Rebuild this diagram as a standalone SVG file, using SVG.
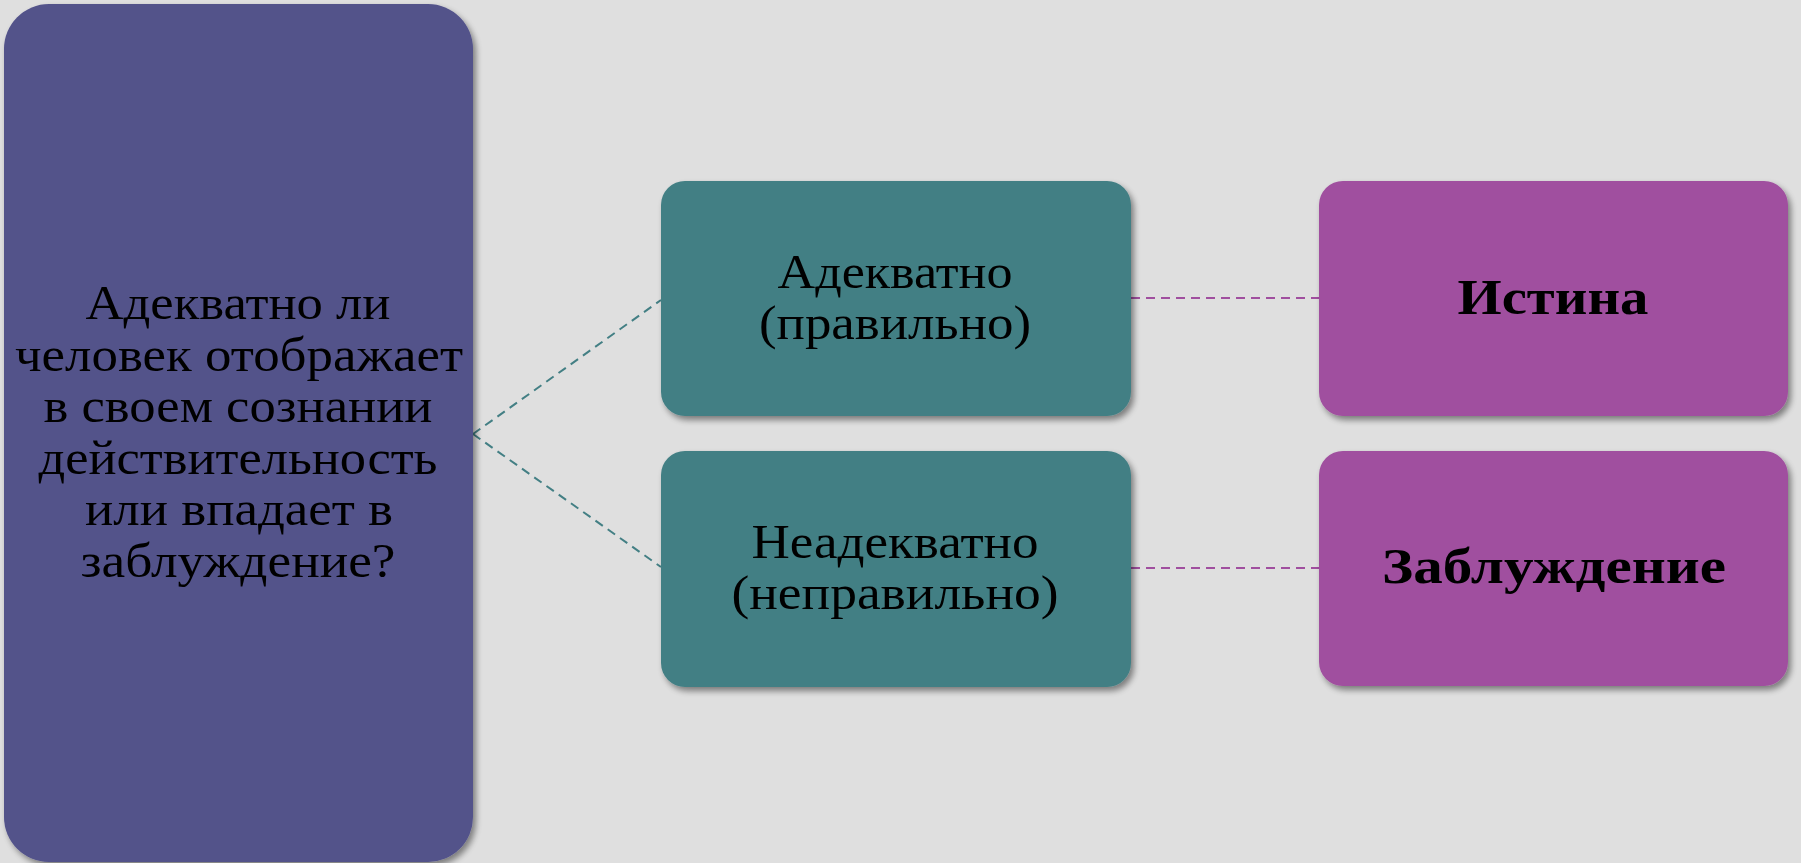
<svg xmlns="http://www.w3.org/2000/svg" width="1801" height="863" viewBox="0 0 1801 863">
<defs>
<filter id="sh" x="-10%" y="-10%" width="125%" height="125%">
<feGaussianBlur in="SourceAlpha" stdDeviation="3"/>
<feOffset dx="3" dy="4" result="b"/>
<feComponentTransfer><feFuncA type="linear" slope="0.45"/></feComponentTransfer>
<feMerge><feMergeNode/><feMergeNode in="SourceGraphic"/></feMerge>
</filter>
</defs>
<style>
text{font-family:"Liberation Serif","Times New Roman",serif;fill:#000;text-anchor:middle}
.r{font-size:48px}
.b{font-size:50px;font-weight:bold}
.t{fill:#437f84}
.p{fill:#a04f9f}
.cl{fill:none;stroke-width:2;stroke-dasharray:9 6}
</style>
<rect width="1801" height="863" fill="#dfdfdf"/>
<g id="connectors">
<line class="cl" x1="473" y1="434" x2="661" y2="300" stroke="#437f84"/>
<line class="cl" x1="473" y1="434" x2="661" y2="567" stroke="#437f84"/>
<line class="cl" x1="1131" y1="298" x2="1319" y2="298" stroke="#a04f9f"/>
<line class="cl" x1="1131" y1="568" x2="1319" y2="568" stroke="#a04f9f"/>
</g>
<g id="question">
<rect x="4" y="4" width="469" height="858" rx="45" fill="#52528a" filter="url(#sh)"/>
<text class="r" x="238" y="319" textLength="305" lengthAdjust="spacingAndGlyphs">Адекватно ли</text>
<text class="r" x="239" y="371" textLength="448" lengthAdjust="spacingAndGlyphs">человек отображает</text>
<text class="r" x="238" y="422" textLength="389" lengthAdjust="spacingAndGlyphs">в своем сознании</text>
<text class="r" x="238" y="474" textLength="399" lengthAdjust="spacingAndGlyphs">действительность</text>
<text class="r" x="239" y="525" textLength="308" lengthAdjust="spacingAndGlyphs">или впадает в</text>
<text class="r" x="238" y="577" textLength="315" lengthAdjust="spacingAndGlyphs">заблуждение?</text>
</g>
<g id="adequate">
<rect class="t" x="661" y="181" width="470" height="235" rx="24" filter="url(#sh)"/>
<text class="r" x="895" y="288" textLength="235" lengthAdjust="spacingAndGlyphs">Адекватно</text>
<text class="r" x="895" y="339" textLength="272" lengthAdjust="spacingAndGlyphs">(правильно)</text>
</g>
<g id="inadequate">
<rect class="t" x="661" y="451" width="470" height="236" rx="24" filter="url(#sh)"/>
<text class="r" x="895" y="558" textLength="287" lengthAdjust="spacingAndGlyphs">Неадекватно</text>
<text class="r" x="895" y="609" textLength="327" lengthAdjust="spacingAndGlyphs">(неправильно)</text>
</g>
<g id="truth">
<rect class="p" x="1319" y="181" width="469" height="235" rx="24" filter="url(#sh)"/>
<text class="b" x="1553" y="314" textLength="191" lengthAdjust="spacingAndGlyphs">Истина</text>
</g>
<g id="error">
<rect class="p" x="1319" y="451" width="469" height="235" rx="24" filter="url(#sh)"/>
<text class="b" x="1554" y="583" textLength="344" lengthAdjust="spacingAndGlyphs">Заблуждение</text>
</g>
</svg>
